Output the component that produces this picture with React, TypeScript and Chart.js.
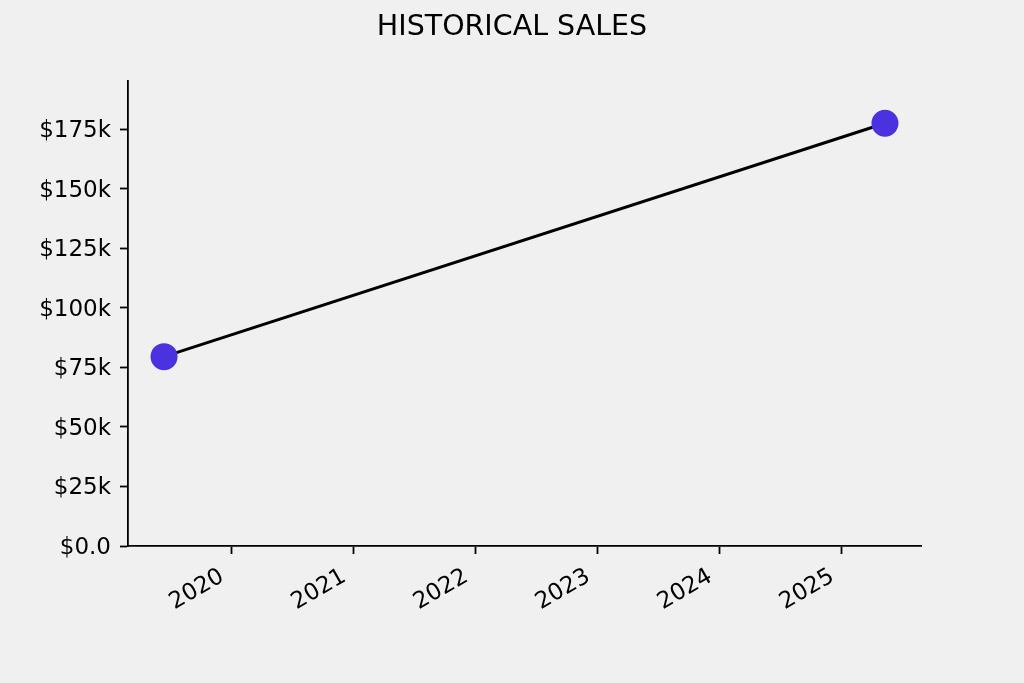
import React, { useEffect, useRef } from "react";
import { Chart, registerables } from "chart.js";

Chart.register(...registerables);

const dates = ["2019-06-14", "2025-05-11"];
const sales = [79500, 177500];
const yearTicks = [2020, 2021, 2022, 2023, 2024, 2025];
const yTicks = [0, 25000, 50000, 75000, 100000, 125000, 150000, 175000];
const title = "HISTORICAL SALES";

function toYear(s: string): number {
  const d = new Date(s + "T00:00:00Z");
  const y = d.getUTCFullYear();
  const start = Date.UTC(y, 0, 1);
  const end = Date.UTC(y + 1, 0, 1);
  return y + (d.getTime() - start) / (end - start);
}

const titlePlugin = {
  id: "figTitle",
  afterDraw(chart: any) {
    const ctx = chart.ctx;
    ctx.save();
    ctx.fillStyle = "#000000";
    ctx.font = "28.5px 'DejaVu Sans'";
    ctx.textAlign = "center";
    ctx.textBaseline = "alphabetic";
    ctx.fillText(title, chart.width / 2, 35);
    ctx.restore();
  },
};

export default function App() {
  const ref = useRef<HTMLCanvasElement>(null);
  useEffect(() => {
    document.body.style.margin = "0";
    document.body.style.background = "#f0f0f0";
    const xs = dates.map(toYear);
    const xmin0 = Math.min(...xs);
    const xmax0 = Math.max(...xs);
    const span = xmax0 - xmin0;
    const font = { family: "DejaVu Sans", size: 23 };
    const gridCfg = {
      display: true,
      drawOnChartArea: false,
      drawTicks: true,
      tickLength: 8,
      tickWidth: 1.8,
      tickColor: "#000000",
    };
    const chart = new Chart(ref.current!, {
      type: "line",
      data: {
        datasets: [
          {
            data: xs.map((x, i) => ({ x, y: sales[i] })),
            borderColor: "#000000",
            borderWidth: 3,
            pointRadius: 13.5,
            pointBackgroundColor: "rgb(74,50,224)",
            pointBorderColor: "rgb(74,50,224)",
            pointBorderWidth: 0,
            tension: 0,
          },
        ],
      },
      plugins: [titlePlugin],
      options: {
        animation: false,
        responsive: false,
        layout: { padding: { left: 0, right: 103, top: 81, bottom: 0 } },
        plugins: {
          legend: { display: false },
          tooltip: { enabled: false },
          title: { display: false },
        },
        scales: {
          x: {
            type: "linear",
            min: xmin0 - 0.05 * span,
            max: xmax0 + 0.05 * span,
            afterBuildTicks: (s: any) => {
              s.ticks = yearTicks.map((v) => ({ value: v }));
            },
            afterFit: (s: any) => {
              s.height = 137;
            },
            ticks: {
              color: "#000000",
              font,
              minRotation: 30,
              maxRotation: 30,
              padding: 9,
              labelOffset: -9,
              autoSkip: false,
              callback: (v: any) => String(v),
            },
            grid: gridCfg,
            border: { display: true, color: "#000000", width: 1.8 },
          },
          y: {
            type: "linear",
            min: 0,
            max: Math.max(...sales) * 1.1,
            afterBuildTicks: (s: any) => {
              s.ticks = yTicks.map((v) => ({ value: v }));
            },
            afterFit: (s: any) => {
              s.width = 128;
            },
            ticks: {
              color: "#000000",
              font,
              padding: 9,
              labelOffset: 2,
              autoSkip: false,
              callback: (v: any) => (v === 0 ? "$0.0" : "$" + v / 1000 + "k"),
            },
            grid: gridCfg,
            border: { display: true, color: "#000000", width: 1.8 },
          },
        },
      },
    });
    return () => chart.destroy();
  }, []);
  return (
    <div style={{ width: 1024, height: 683, background: "#f0f0f0" }}>
      <canvas ref={ref} width={1024} height={683} />
    </div>
  );
}
